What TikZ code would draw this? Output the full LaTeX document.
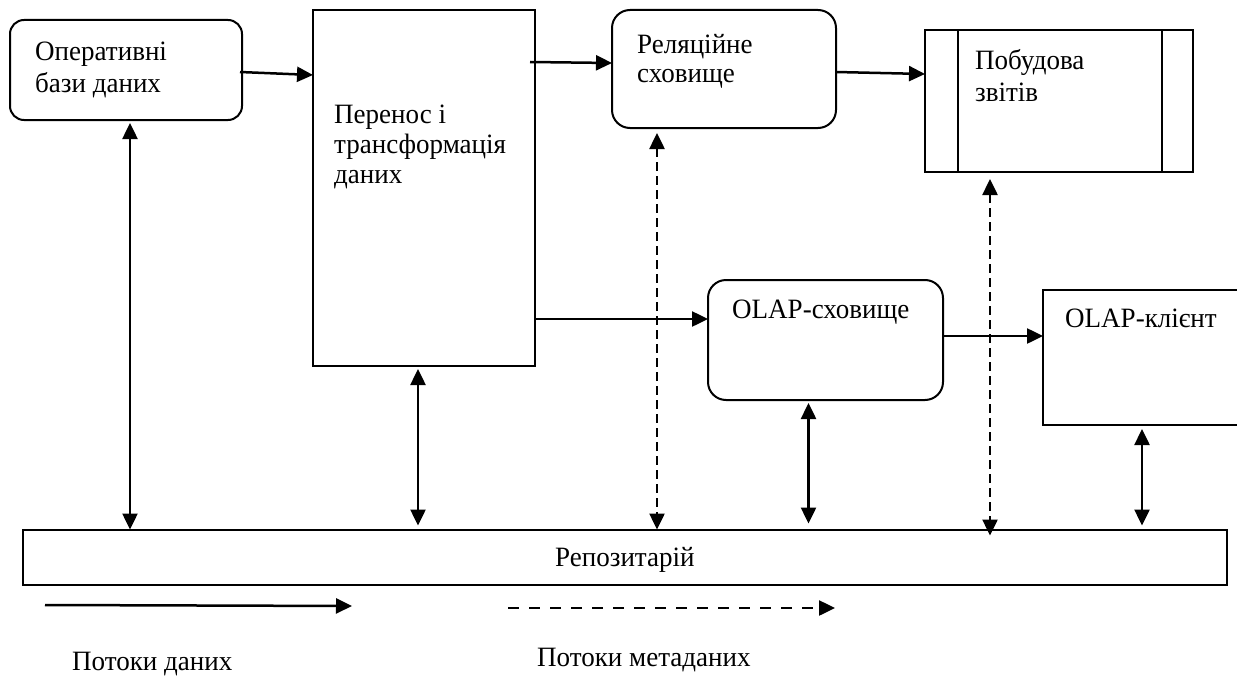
\documentclass[tikz,border=0pt]{standalone}
\usepackage{fontspec}
\setmainfont{Liberation Serif}[FakeStretch=0.965]
\usetikzlibrary{arrows.meta,calc}
\begin{document}
\begin{tikzpicture}[x=1pt,y=-1pt,
  box/.style={draw,line width=2pt,inner sep=0pt,outer sep=0pt},
  rbox/.style={box,rounded corners=14pt},
  lbl/.style={anchor=base west,inner sep=0pt,font=\fontsize{28}{32}\selectfont},
  arr/.style={line width=2.5pt,-{Triangle[length=16pt,width=15pt]}},
  darr/.style={line width=2.5pt,{Triangle[length=16pt,width=15pt]}-{Triangle[length=16pt,width=15pt]}},
  dsh/.style={dash pattern=on 9pt off 5pt},
  ldsh/.style={dash pattern=on 11pt off 10pt}]
\useasboundingbox (0,0) rectangle (1237,677);
% boxes
\node[rbox,minimum width=232pt,minimum height=100pt] (ops) at (126,70) {};
\node[box,minimum width=222pt,minimum height=356pt] (etl) at (424,188) {};
\node[rbox,rounded corners=18pt,minimum width=224pt,minimum height=118pt] (rel) at (724,69) {};
\node[box,minimum width=268pt,minimum height=142pt] (rep) at (1059,101) {};
\draw[line width=2pt] ($(rep.north west)+(33,0)$) -- ($(rep.south west)+(33,0)$);
\draw[line width=2pt] ($(rep.north east)+(-31,0)$) -- ($(rep.south east)+(-31,0)$);
\node[rbox,rounded corners=18pt,minimum width=235pt,minimum height=120pt] (olap) at (825.5,340) {};
\node[box,minimum width=196pt,minimum height=135pt] (cli) at (1141,357.5) {};
\node[box,minimum width=1204pt,minimum height=55pt] (repo) at (625,557) {};
% texts
\node[lbl] (t1) at (35,60) {Оперативні};
\node[lbl] (t2) at (35,92.5) {бази даних};
\node[lbl] (t3) at (334,123) {Перенос і};
\node[lbl] (t4) at (334,153.5) {трансформація};
\node[lbl] (t5) at (334,183) {даних};
\node[lbl] (t6) at (637,53.5) {Реляційне};
\node[lbl] (t7) at (637,82) {сховище};
\node[lbl] (t8) at (975,70) {Побудова};
\node[lbl] (t9) at (975,101) {звітів};
\node[lbl] (t10) at (732,318) {OLAP-сховище};
\node[lbl] (t11) at (1065,327) {OLAP-клієнт};
\node[lbl] (t12) at (555,566) {Репозитарій};
\node[lbl] (t13) at (72,670) {Потоки даних};
\node[lbl] (t14) at (537,666) {Потоки метаданих};
% data flows
\draw[arr] ($(ops.east)+(-2,2)$) -- ($(etl.west |- ops.east)+(0,5)$);
\draw[arr] ($(etl.east |- rel.west)+(-5,-7)$) -- ($(rel.west)+(0,-6)$);
\draw[arr] ($(rel.east)+(0,3)$) -- ($(rep.west |- rel.east)+(0,5)$);
\draw[arr] ($(etl.east)+(0,131)$) -- ($(olap.west)+(0,-21)$);
\draw[arr] ($(olap.east)+(0,-4)$) -- ($(cli.west |- olap.east)+(0,-4)$);
% repository links
\draw[darr] ($(ops.south)+(4,3)$) -- ($(repo.north -| ops.south)+(4,0)$);
\draw[darr] ($(etl.south)+(-6,3)$) -- ($(repo.north -| etl.south)+(-6,-4)$);
\draw[darr,dsh] ($(rel.south)+(-67,5)$) -- ($(repo.north -| rel.south)+(-67,0)$);
\draw[darr] ($(olap.south)+(-17,3)$) -- ($(repo.north -| olap.south)+(-17,-6)$);
\draw[darr,dsh] ($(rep.south)+(-69,7)$) -- ($(repo.north -| rep.south)+(-69,6)$);
\draw[darr] ($(cli.south)+(1,4)$) -- ($(repo.north -| cli.south)+(1,-4)$);
% legend
\coordinate (l1) at (45,605);
\coordinate (l2) at (352,606);
\draw[arr] (l1) -- (l2);
\coordinate (l3) at (508,608);
\coordinate (l4) at (835,608);
\draw[arr,ldsh] (l3) -- (l4);
\end{tikzpicture}
\end{document}
